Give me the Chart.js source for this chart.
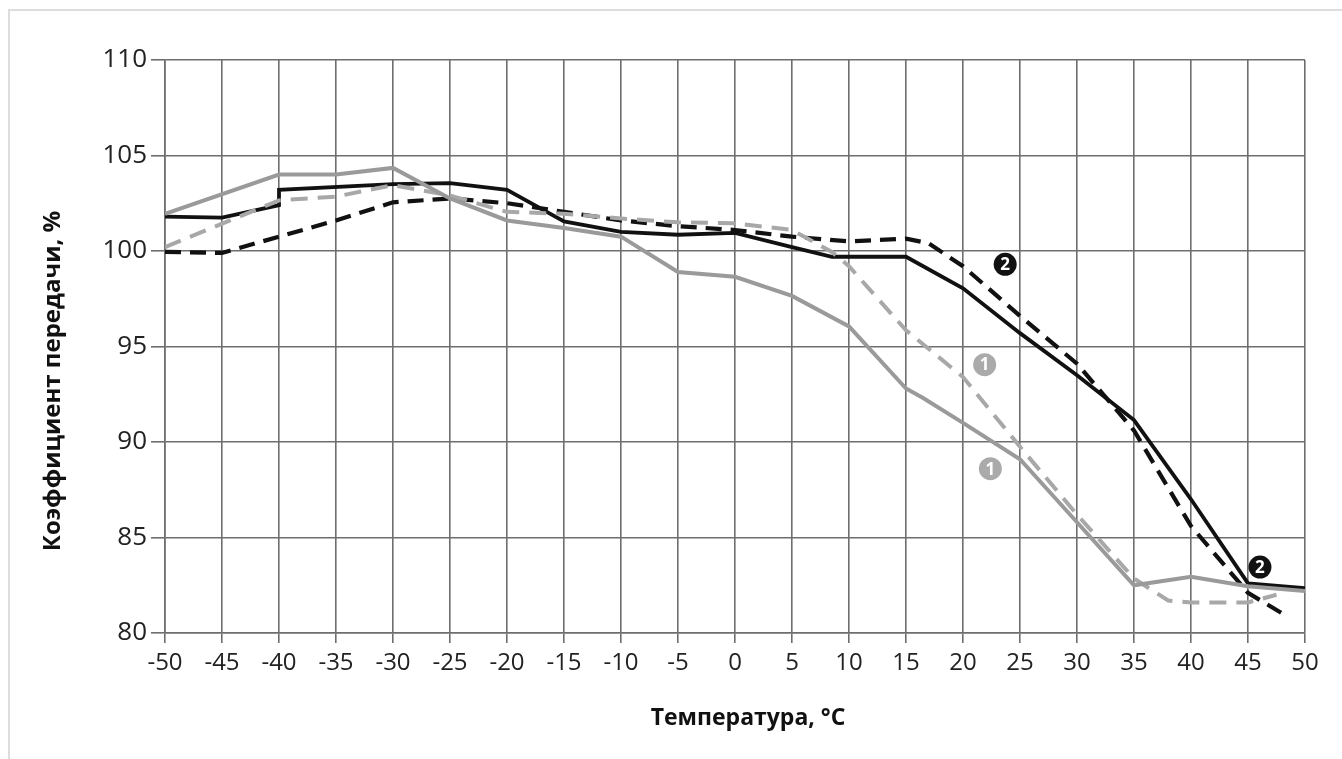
<!DOCTYPE html>
<html><head><meta charset="utf-8">
<script src="https://cdn.jsdelivr.net/npm/chart.js@4.4.0/dist/chart.umd.min.js"></script>
<style>
html,body{margin:0;padding:0;background:#fff;}
#wrap{position:absolute;left:0;top:0;width:1342px;height:759px;}
#frame{position:absolute;left:8px;top:9px;width:1340px;height:760px;border-left:2px solid #ddd;border-top:2px solid #ddd;}
</style></head>
<body>
<div id="wrap"><div id="frame"></div><canvas id="c" width="1342" height="759"></canvas></div>
<script>
const xTicks = [-50,-45,-40,-35,-30,-25,-20,-15,-10,-5,0,5,10,15,20,25,30,35,40,45,50];
const yTicks = [80,85,90,95,100,105,110];
const xTitle = 'Температура, °С';
const yTitle = 'Коэффициент передачи, %';

const s2SolidX = [-50,-45,-40,-40,-30,-25,-20,-15,-10,-5,0,5,8.5,15,20,25,30,35,40,45,50];
const s2SolidY = [101.8,101.75,102.4,103.2,103.5,103.55,103.2,101.55,101.0,100.85,100.95,100.2,99.7,99.7,98.05,95.7,93.5,91.15,87.0,82.6,82.35];

const s2DashX = [-50,-45,-40,-35,-30,-25,-20,-15,-10,-5,0,5,10,15,17,20,25,30,35,40,45,48.5];
const s2DashY = [99.95,99.9,100.75,101.6,102.55,102.75,102.5,102.05,101.6,101.3,101.1,100.75,100.5,100.65,100.4,99.2,96.6,94.1,90.6,85.6,82.1,80.85];

const s1SolidX = [-50,-40,-35,-30,-25,-20,-15,-10,-5,0,5,10,15,16.5,20,25,30,35,40,45,50];
const s1SolidY = [101.95,104.0,104.0,104.35,102.75,101.6,101.2,100.75,98.9,98.65,97.65,96.05,92.8,92.3,91.0,89.1,85.8,82.5,82.95,82.45,82.2];

const s1DashX = [-50,-40,-35,-30,-25,-20,-15,-10,-5,0,5,8.5,10,15,20,25,30,35,38,40,45,47.5];
const s1DashY = [100.2,102.65,102.85,103.45,102.9,102.05,101.95,101.7,101.5,101.45,101.1,99.95,99.2,95.85,93.4,89.75,86.2,82.85,81.7,81.6,81.6,82.0];

const markerX = [23.7, 46.05, 21.9, 22.4];
const markerY = [99.3, 83.45, 94.05, 88.6];
const markerText = ['2','2','1','1'];
const markerDark = [true,true,false,false];

function pts(xs, ys){ return xs.map((x,i)=>({x:x,y:ys[i]})); }

const markerPlugin = {
  id:'markers',
  afterDatasetsDraw(chart){
    const ctx = chart.ctx, xs = chart.scales.x, ys = chart.scales.y;
    ctx.save();
    for(let i=0;i<markerX.length;i++){
      const px = xs.getPixelForValue(markerX[i]), py = ys.getPixelForValue(markerY[i]);
      ctx.beginPath();
      ctx.arc(px,py,11.5,0,Math.PI*2);
      ctx.fillStyle = markerDark[i] ? '#111' : '#aaa';
      ctx.fill();
      ctx.fillStyle = '#fff';
      ctx.font = 'bold 17px "Open Sans"';
      ctx.textAlign='center'; ctx.textBaseline='middle';
      ctx.fillText(markerText[i], px, py+1);
    }
    ctx.restore();
  }
};

const titlePlugin = {
  id:'axisTitles',
  afterDraw(chart){
    const ctx = chart.ctx;
    ctx.save();
    ctx.fillStyle = '#111';
    ctx.textAlign = 'center'; ctx.textBaseline = 'middle';
    ctx.font = 'bold 23px "Open Sans"';
    ctx.fillText(xTitle, 748, 718);
    ctx.translate(53, 381);
    ctx.rotate(-Math.PI/2);
    ctx.font = 'bold 24px "Open Sans"';
    ctx.fillText(yTitle, 0, 0);
    ctx.restore();
  }
};

const gridCol = '#6e6e6e';
new Chart(document.getElementById('c'), {
  type:'line',
  data:{datasets:[
    {data:pts(s1SolidX,s1SolidY), borderColor:'#9a9a9a', borderWidth:4, pointRadius:0, tension:0},
    {data:pts(s1DashX,s1DashY), borderColor:'#a8a8a8', borderWidth:4, borderDash:[17,10], pointRadius:0, tension:0},
    {data:pts(s2DashX,s2DashY), borderColor:'#111', borderWidth:4.2, borderDash:[16,9], pointRadius:0, tension:0},
    {data:pts(s2SolidX,s2SolidY), borderColor:'#111', borderWidth:3.8, pointRadius:0, tension:0}
  ]},
  options:{
    responsive:false, animation:false,
    layout:{padding:{left:0,right:37,top:60,bottom:0}},
    plugins:{legend:{display:false}, tooltip:{enabled:false}},
    scales:{
      x:{type:'linear', min:-50, max:50,
        afterBuildTicks(s){ s.ticks = xTicks.map(v=>({value:v})); },
        afterFit(s){ s.height = 126; },
        grid:{color:gridCol, lineWidth:1.6, tickLength:10, tickColor:gridCol},
        border:{color:gridCol, width:1.6},
        ticks:{font:{family:'"Open Sans"', size:24}, color:'#222', padding:6, maxRotation:0, autoSkip:false}
      },
      y:{type:'linear', min:80, max:110,
        afterBuildTicks(s){ s.ticks = yTicks.map(v=>({value:v})); },
        afterFit(s){ s.width = 165; },
        grid:{color:gridCol, lineWidth:1.6, tickLength:14, tickColor:gridCol},
        border:{color:gridCol, width:1.6},
        ticks:{font:{family:'"Open Sans"', size:26}, color:'#222', padding:4}
      }
    }
  },
  plugins:[markerPlugin, titlePlugin]
});
</script>
</body></html>
